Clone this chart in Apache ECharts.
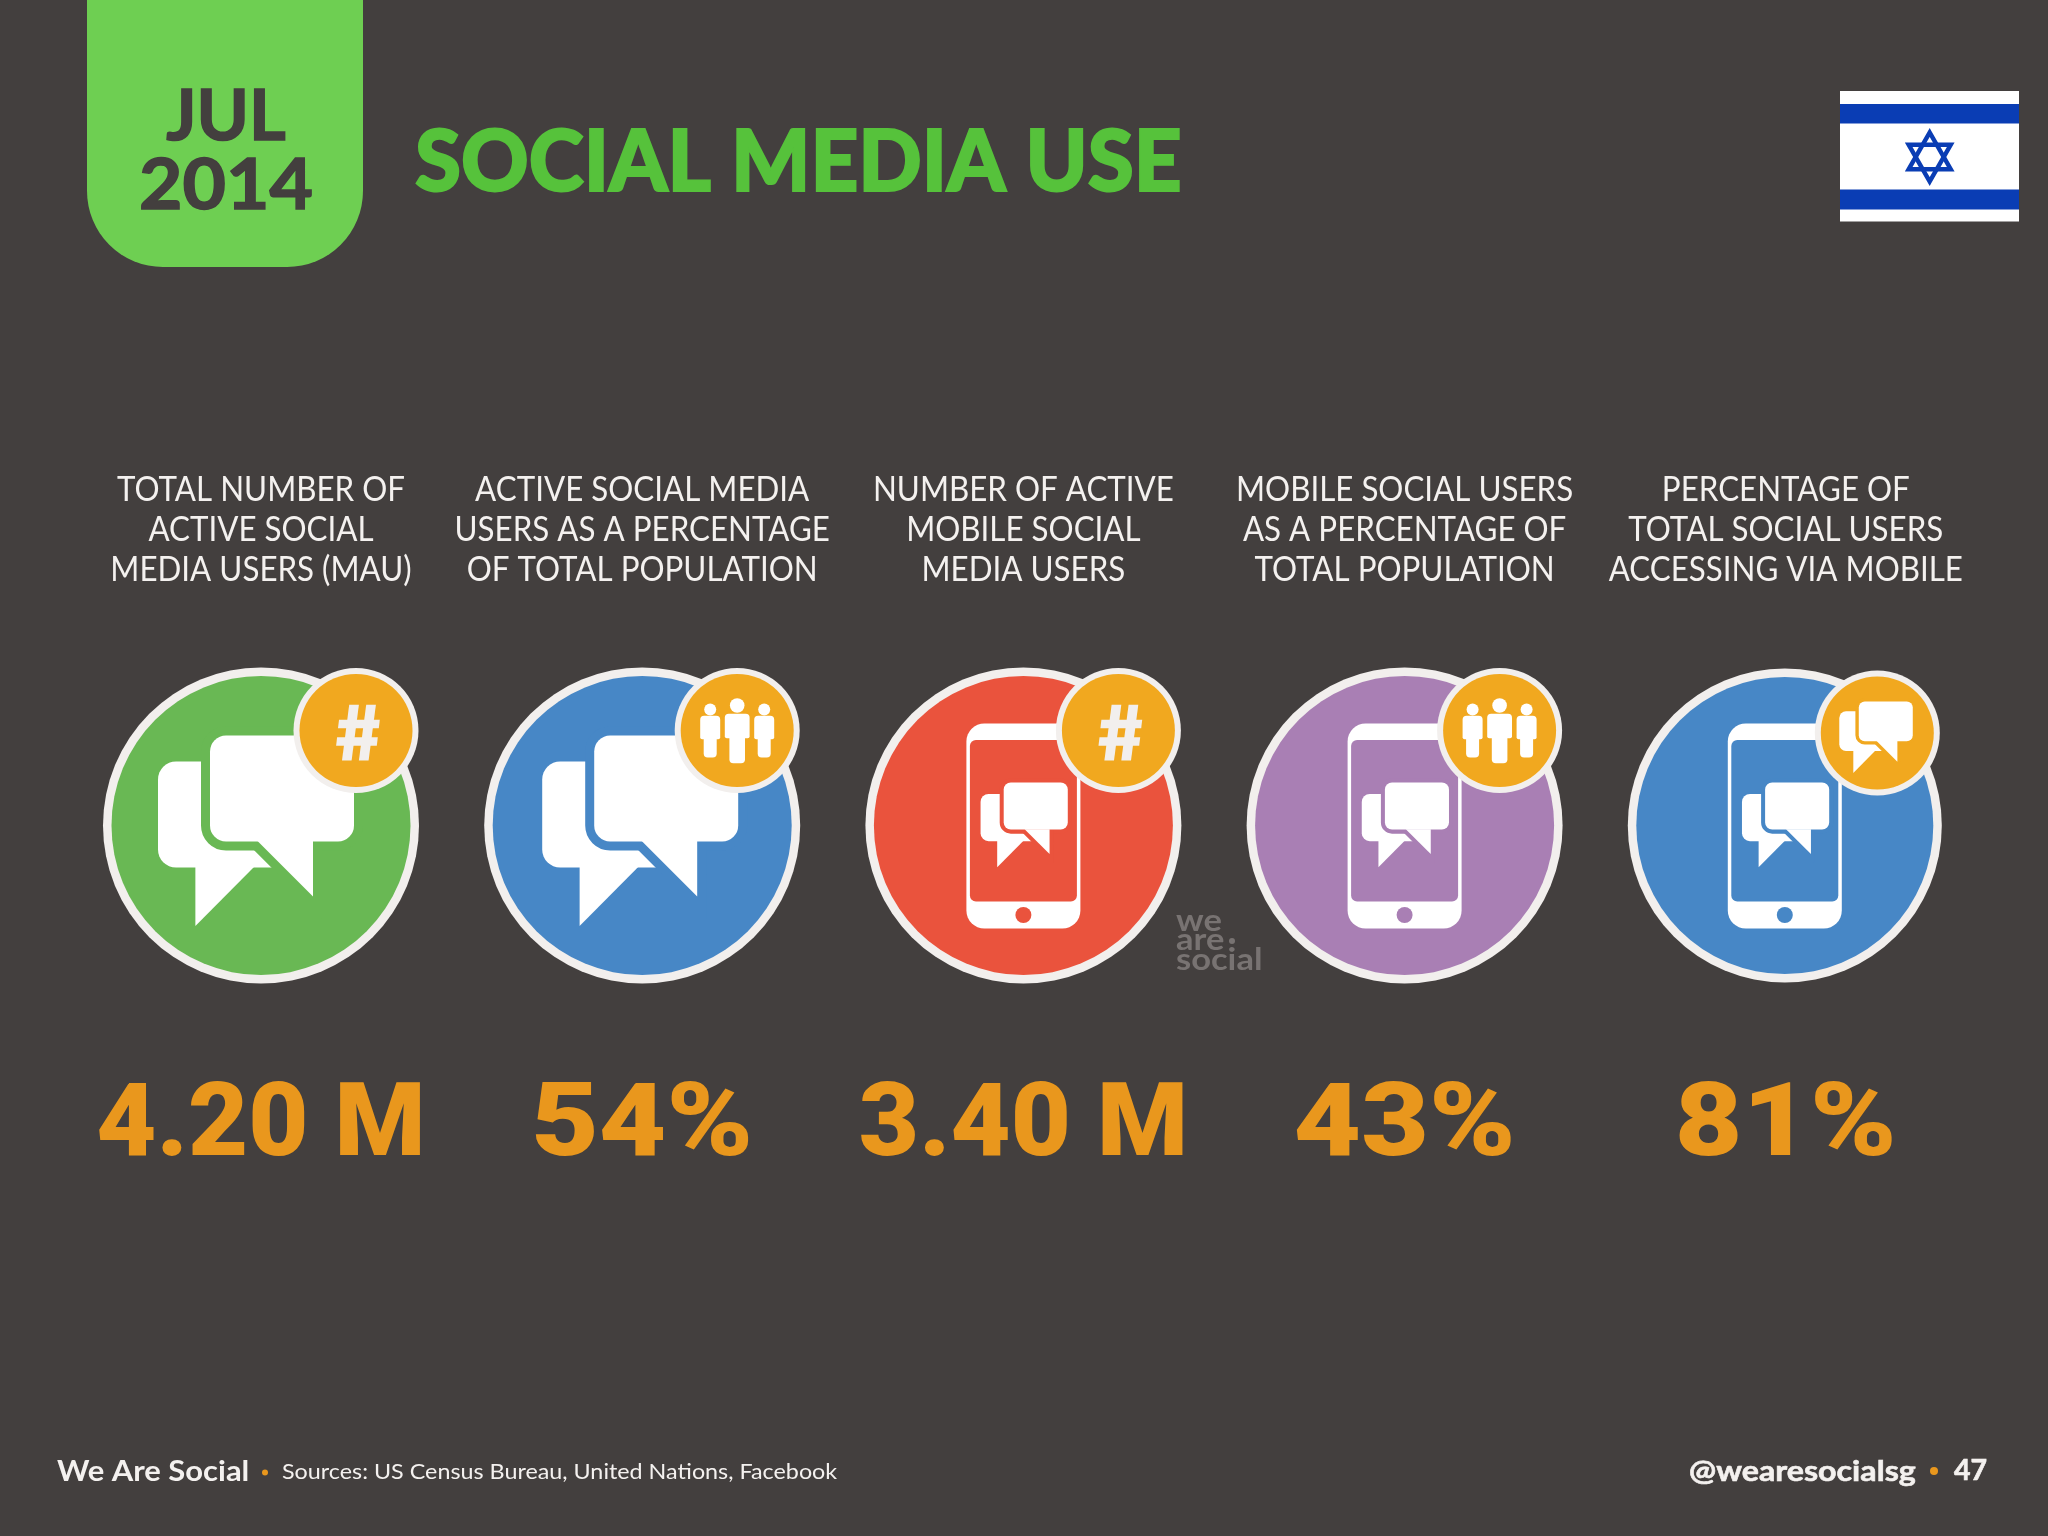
<!DOCTYPE html>
<html><head><meta charset="utf-8">
<style>html,body{margin:0;padding:0;background:#433f3e}#c{width:2048px;height:1536px}</style>
<script src="https://cdn.jsdelivr.net/npm/echarts@6/dist/echarts.min.js"></script>
</head><body><div id="c"></div>
<script>
const categories = [
  'TOTAL NUMBER OF\nACTIVE SOCIAL\nMEDIA USERS (MAU)',
  'ACTIVE SOCIAL MEDIA\nUSERS AS A PERCENTAGE\nOF TOTAL POPULATION',
  'NUMBER OF ACTIVE\nMOBILE SOCIAL\nMEDIA USERS',
  'MOBILE SOCIAL USERS\nAS A PERCENTAGE OF\nTOTAL POPULATION',
  'PERCENTAGE OF\nTOTAL SOCIAL USERS\nACCESSING VIA MOBILE'
];
const valueLabels = ['4.20 M', '54%', '3.40 M', '43%', '81%'];
const iconKinds = ['bubbles', 'bubbles', 'phone', 'phone', 'phone'];
const badgeKinds = ['hash', 'people', 'hash', 'people', 'bubbles'];
const discColors = ['#69b854', '#4787c6', '#ea533d', '#a97fb4', '#4787c6'];

const BG = '#433f3e', RING = '#f2efed', BADGE = '#f1a81f', WHITE = '#ffffff', AMBER = '#e9971d';

function rr(x0, y0, x1, y1, r, style) {
  return {type: 'rect', shape: {x: x0, y: y0, width: x1 - x0, height: y1 - y0, r: r}, style: style};
}
function poly(pts, style) { return {type: 'polygon', shape: {points: pts}, style: style}; }
function circ(x, y, r, style) { return {type: 'circle', shape: {cx: x, cy: y, r: r}, style: style}; }

function bubbles(ox, oy, s, bg) {
  const X = v => ox + v * s, Y = v => oy + v * s, f = {fill: WHITE};
  const tailF = [[X(-4), Y(15)], [X(52), Y(71)], [X(52), Y(15)]];
  const backR = 18 * s;
  return [
    rr(X(-103), Y(-64), X(12), Y(42), [backR, 0, 0, backR], f),
    poly([[X(-65.6), Y(41)], [X(-65.6), Y(100.5)], [X(-6.5), Y(41)]], f),
    rr(X(-51), Y(-90), X(93), Y(16), 16 * s, {fill: bg, stroke: bg, lineWidth: 18 * s}),
    poly(tailF, {fill: bg, stroke: bg, lineWidth: 18 * s, lineJoin: 'miter'}),
    rr(X(-51), Y(-90), X(93), Y(16), 16 * s, f),
    poly(tailF, f)
  ];
}
function phone(cx, cy, bg) {
  return [
    rr(cx - 57, cy - 102, cx + 57, cy + 103, 18, {fill: WHITE}),
    rr(cx - 53.5, cy - 85.5, cx + 53.5, cy + 76, 6, {fill: bg}),
    circ(cx, cy + 89.5, 8, {fill: bg})
  ].concat(bubbles(cx + 3, cy - 3, 0.445, bg));
}
function hash(cx, cy) {
  const f = {fill: RING}, p = (x, y) => [cx + x, cy + y];
  return [
    poly([p(-6.8, -25.7), p(2.9, -25.7), p(-4.4, 30), p(-14, 30)], f),
    poly([p(10.2, -25.7), p(19.9, -25.7), p(12.6, 30), p(2.9, 30)], f),
    poly([p(-17, -10.7), p(23.8, -10.7), p(22.8, -2.3), p(-18, -2.3)], f),
    poly([p(-18.9, 6.7), p(21.8, 6.7), p(20.8, 15.3), p(-19.9, 15.3)], f)
  ];
}
function person(cx, cy, headY, headR, tw, top, hip, lw, bottom) {
  const f = {fill: WHITE};
  return [
    circ(cx, cy + headY, headR, f),
    rr(cx - tw, cy + top, cx + tw, cy + hip, [4, 4, 2, 2], f),
    rr(cx - lw, cy + top + 4, cx + lw, cy + bottom, [0, 0, 4, 4], f)
  ];
}
function people(cx, cy) {
  return [
    ...person(cx - 27, cy, -21, 6, 10, -14.7, 8.7, 6.5, 27),
    ...person(cx + 27, cy, -21, 6, 10, -14.7, 8.7, 6.5, 27),
    ...person(cx, cy, -25, 7.3, 12.4, -16.7, 7.7, 7.8, 32.7)
  ];
}
function text(x, y, str, font, fill, scaleX, align, boldStroke) {
  const style = {x: 0, y: 0, text: str, font: font, fill: fill, align: align || 'center', verticalAlign: 'middle'};
  if (boldStroke) { style.stroke = fill; style.lineWidth = boldStroke; }
  return {type: 'text', x: x, y: y, scaleX: scaleX || 1, style: style};
}

function renderColumn(params, api) {
  const i = api.value(0);
  const c = api.coord([i, 0]);
  const lastCol = i === 4;
  const cx = c[0] - (lastCol ? 1 : 0), cy = 825.5;
  const col = discColors[i];
  const r = lastCol ? 157 : 158, off = lastCol ? 92.5 : 95;
  const kids = [];
  categories[i].split('\n').forEach((ln, k) => {
    kids.push(text(c[0], 490 + k * 40, ln, '400 35px Lato', '#f4f1ef', 0.895));
  });
  kids.push(circ(cx, cy, r, {fill: RING}));
  kids.push(circ(cx, cy, r - 8.5, {fill: col}));
  if (iconKinds[i] === 'bubbles') kids.push(...bubbles(cx + (i === 1 ? 3 : 0), cy, 1, col));
  else kids.push(...phone(cx, cy, col));
  const bx = cx + off, by = cy - off;
  kids.push(circ(bx, by, 62.5, {fill: RING}));
  kids.push(circ(bx, by, 56.5, {fill: BADGE}));
  if (badgeKinds[i] === 'hash') kids.push(...hash(bx, by));
  else if (badgeKinds[i] === 'people') kids.push(...people(bx, by));
  else kids.push(...bubbles(bx + 0.6, by + 2.2, 0.375, BADGE));
  const label = valueLabels[i];
  kids.push(text(c[0], 1129.5, label, '900 102px Roboto', AMBER, label.endsWith('%') ? 1.145 : 1.02));
  return {type: 'group', children: kids};
}

const chart = echarts.init(document.getElementById('c'), null, {width: 2048, height: 1536, renderer: 'canvas'});
const star = (cx, cy, hy, hx) => [
  {type: 'polygon', shape: {points: [[cx, cy - hy], [cx + hx, cy + hy * 0.5], [cx - hx, cy + hy * 0.5]]},
    style: {fill: 'none', stroke: '#0a3db4', lineWidth: 4.5}},
  {type: 'polygon', shape: {points: [[cx, cy + hy], [cx + hx, cy - hy * 0.5], [cx - hx, cy - hy * 0.5]]},
    style: {fill: 'none', stroke: '#0a3db4', lineWidth: 4.5}}
];
const gt = (x, y, str, font, fill, scaleX, bold) => Object.assign(text(x, y, str, font, fill, scaleX, 'left', bold));
chart.setOption({
  animation: false,
  backgroundColor: BG,
  grid: {left: 70.4, width: 1906, top: 0, height: 1536},
  xAxis: {type: 'category', data: categories, show: false},
  yAxis: {type: 'value', min: 0, max: 1, show: false},
  series: [{
    type: 'custom', coordinateSystem: 'cartesian2d', clip: false,
    renderItem: renderColumn,
    encode: {x: 0, y: 1},
    data: categories.map((c, i) => [i, 0])
  }],
  graphic: [
    {type: 'rect', shape: {x: 87, y: -10, width: 276, height: 277, r: [0, 0, 76, 76]}, style: {fill: '#6ecf52'}},
    text(226, 117, 'JUL', '700 70px Lato', BG, 1.01, 'center', 1.5),
    text(226, 186, '2014', '700 70px Lato', BG, 1.07, 'center', 1.5),
    gt(415, 164, 'SOCIAL MEDIA USE', '900 85px Lato', '#56c23b', 0.982, 2),

    {type: 'rect', shape: {x: 1840, y: 91, width: 179, height: 130.5}, style: {fill: '#ffffff'}},
    {type: 'rect', shape: {x: 1840, y: 104, width: 179, height: 19.5}, style: {fill: '#0a3db4'}},
    {type: 'rect', shape: {x: 1840, y: 189.5, width: 179, height: 20}, style: {fill: '#0a3db4'}},
    ...star(1929.7, 157, 24.5, 21),

    gt(1176, 921, 'we', '700 30px Lato', '#787372', 1.15),
    gt(1176, 940, 'are', '700 30px Lato', '#787372', 1.15),
    {type: 'circle', shape: {cx: 1232, cy: 941, r: 3}, style: {fill: '#787372'}},
    gt(1176, 960, 'social', '700 30px Lato', '#787372', 1.15),

    gt(57, 1472, 'We Are Social', '700 28px Lato', '#f4f1ef', 1.106),
    {type: 'circle', shape: {cx: 265, cy: 1472.5, r: 3}, style: {fill: AMBER}},
    gt(282, 1472, 'Sources: US Census Bureau, United Nations, Facebook', '400 22px Lato', '#f4f1ef', 1.06),
    gt(1689, 1472, '@wearesocialsg', '700 29px Lato', '#f4f1ef', 1.11, 0.6),
    {type: 'circle', shape: {cx: 1934, cy: 1471, r: 4}, style: {fill: AMBER}},
    gt(1954, 1471, '47', '700 28px Lato', '#f4f1ef', 1.02, 0.6)
  ]
});
</script></body></html>
